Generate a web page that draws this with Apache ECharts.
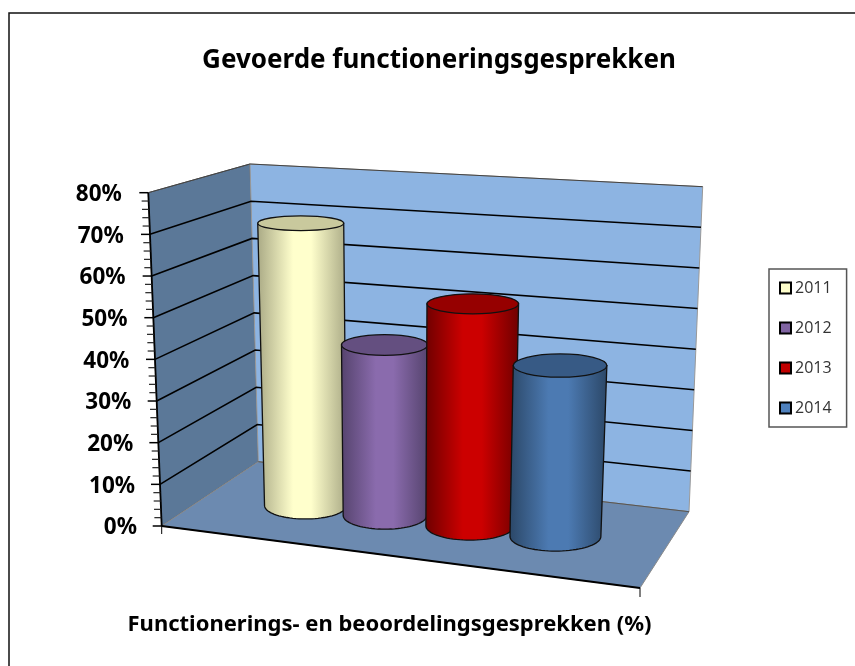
<!DOCTYPE html>
<html>
<head>
<meta charset="utf-8">
<style>
    html, body { margin: 0; padding: 0; background: #fff; }
    #main { width: 855px; height: 666px; }
</style>
<script src="https://cdn.jsdelivr.net/npm/echarts@6/dist/echarts.min.js"></script>
</head>
<body>
<div id="main"></div>
<script>
// data
const years = ['2011', '2012', '2013', '2014'];
const percentages = [70.5, 42, 54, 41];
const categories = ['Functionerings- en beoordelingsgesprekken (%)'];
const yTicks = [0, 10, 20, 30, 40, 50, 60, 70, 80];
const yMinorTicks = [2, 4, 6, 8, 12, 14, 16, 18, 22, 24, 26, 28, 32, 34, 36, 38, 42, 44, 46, 48, 52, 54, 56, 58, 62, 64, 66, 68, 72, 74, 76, 78];

// corners of the 3d box, in pixels
const box = {
    floorFL: [161.7, 526], floorBL: [258.3, 461.7], floorBR: [689, 511.7], floorFR: [640, 588],
    topFL: [148.3, 192.7], topBL: [250, 164], topBR: [702.7, 186.7], topFR: [657, 235]
};
const barU = [0.21, 0.385, 0.572, 0.76];
const barHalfU = [0.09, 0.092, 0.097, 0.1];
const barHalfW = 0.2;
const barLook = [
    { swatch: '#ffffcc', top: '#c9c99d', edge: '#a9a985', mid: '#ffffcc' },
    { swatch: '#8064a2', top: '#644f80', edge: '#55436d', mid: '#8a6bad' },
    { swatch: '#c00000', top: '#960000', edge: '#6e0000', mid: '#cc0000' },
    { swatch: '#4f81bd', top: '#375a85', edge: '#2b4767', mid: '#4c7ab2' }
];

function lerp(a, b, t) {
    return [a[0] + (b[0] - a[0]) * t, a[1] + (b[1] - a[1]) * t];
}
// u: left to right, w: front to back, t: floor to top of the box
function project(u, w, t) {
    const floor = lerp(lerp(box.floorFL, box.floorFR, u), lerp(box.floorBL, box.floorBR, u), w);
    const top = lerp(lerp(box.topFL, box.topFR, u), lerp(box.topBL, box.topBR, u), w);
    return lerp(floor, top, t);
}
// share of the box height for a value, through the y axis scale
function heightShare(api, v) {
    const y0 = api.coord([0, 0])[1];
    const yMax = api.coord([0, 80])[1];
    return (y0 - api.coord([0, v])[1]) / (y0 - yMax);
}

function renderWalls(params, api) {
    const t1 = 1;
    return {
        type: 'group',
        children: [
            { type: 'polygon', shape: { points: [project(0, 0, 0), project(0, 1, 0), project(0, 1, t1), project(0, 0, t1)] },
              style: { fill: '#5b7898', stroke: '#555', lineWidth: 1 } },
            { type: 'polygon', shape: { points: [project(0, 1, 0), project(1, 1, 0), project(1, 1, t1), project(0, 1, t1)] },
              style: { fill: '#8db4e2', stroke: '#999', lineWidth: 1 } },
            { type: 'polygon', shape: { points: [project(0, 0, 0), project(1, 0, 0), project(1, 1, 0), project(0, 1, 0)] },
              style: { fill: '#6c8ab0', stroke: '#8a8a8a', lineWidth: 1 } },
            { type: 'polyline', shape: { points: [project(0, 1, t1), project(1, 1, t1)] }, style: { fill: null, stroke: '#444', lineWidth: 1 } },
            { type: 'polyline', shape: { points: [project(0, 0, t1), project(0, 1, t1)] }, style: { fill: null, stroke: '#444', lineWidth: 1 } },
            { type: 'polyline', shape: { points: [project(0, 1, 0), project(1, 1, 0)] }, style: { fill: null, stroke: '#555', lineWidth: 1 } },
            // front floor edge and the slanted value axis
            { type: 'polyline', shape: { points: [project(0, 0, 0), project(1, 0, 0)] }, style: { fill: null, stroke: '#000', lineWidth: 1.8 } },
            { type: 'polyline', shape: { points: [project(0, 0, 0), project(0, 0, t1)] }, style: { fill: null, stroke: '#000', lineWidth: 1.8 } },
            // category ticks
            { type: 'line', shape: { x1: box.floorFL[0], y1: box.floorFL[1], x2: box.floorFL[0], y2: box.floorFL[1] + 8 }, style: { stroke: '#000', lineWidth: 1 } },
            { type: 'line', shape: { x1: box.floorFR[0], y1: box.floorFR[1], x2: box.floorFR[0], y2: box.floorFR[1] + 9 }, style: { stroke: '#000', lineWidth: 1 } }
        ]
    };
}

function renderGrid(params, api) {
    const t = heightShare(api, api.value(1));
    const edge = project(0, 0, t);
    const children = [
        { type: 'line', shape: { x1: edge[0] - 9, y1: edge[1], x2: edge[0], y2: edge[1] }, style: { stroke: '#000', lineWidth: 1.5 } }
    ];
    if (t > 0 && t < 1) {
        children.push({
            type: 'polyline',
            shape: { points: [edge, project(0, 1, t), project(1, 1, t)] },
            style: { fill: null, stroke: '#000', lineWidth: 1.6 }
        });
    }
    return { type: 'group', children: children };
}

function renderMinor(params, api) {
    const edge = project(0, 0, heightShare(api, api.value(1)));
    return { type: 'line', shape: { x1: edge[0] - 7, y1: edge[1], x2: edge[0], y2: edge[1] }, style: { stroke: '#222', lineWidth: 1.2 } };
}

function renderCylinder(i) {
    return function (params, api) {
        const t = heightShare(api, api.value(1));
        const u = barU[i], du = barHalfU[i], look = barLook[i];
        const base = project(u, 0.5, 0);
        const head = project(u, 0.5, t);
        const baseRx = (project(u + du, 0.5, 0)[0] - project(u - du, 0.5, 0)[0]) / 2;
        const headRx = (project(u + du, 0.5, t)[0] - project(u - du, 0.5, t)[0]) / 2;
        const baseRy = (project(u, 0.5 - barHalfW, 0)[1] - project(u, 0.5 + barHalfW, 0)[1]) / 2;
        const headRy = (project(u, 0.5 - barHalfW, t)[1] - project(u, 0.5 + barHalfW, t)[1]) / 2;
        const body = [[head[0] - headRx, head[1]], [head[0] + headRx, head[1]]];
        for (let k = 0; k <= 40; k++) {
            const a = Math.PI * k / 40;
            body.push([base[0] + baseRx * Math.cos(a), base[1] + baseRy * Math.sin(a)]);
        }
        return {
            type: 'group',
            children: [
                {
                    type: 'polygon',
                    shape: { points: body },
                    style: {
                        fill: {
                            type: 'linear', x: 0, y: 0, x2: 1, y2: 0,
                            colorStops: [
                                { offset: 0, color: look.edge },
                                { offset: 0.4, color: look.mid },
                                { offset: 0.6, color: look.mid },
                                { offset: 1, color: look.edge }
                            ]
                        },
                        stroke: '#111',
                        lineWidth: 1.3
                    }
                },
                {
                    type: 'ellipse',
                    shape: { cx: head[0], cy: head[1], rx: headRx, ry: headRy },
                    style: { fill: look.top, stroke: '#111', lineWidth: 1.3 }
                }
            ]
        };
    };
}

const yRich = {};
yTicks.forEach(v => {
    yRich['p' + v] = { padding: [4, v * 0.19, 0, 0], fontFamily: 'Noto Sans', fontWeight: 'bold', fontSize: 22.5, color: '#000' };
});

const option = {
    animation: false,
    backgroundColor: '#fff',
    title: {
        text: 'Gevoerde functioneringsgesprekken',
        left: 434,
        top: 43,
        textAlign: 'center',
        textStyle: { fontFamily: 'Noto Sans', fontWeight: 'bold', fontSize: 26, color: '#000' }
    },
    legend: {
        orient: 'vertical',
        left: 769,
        top: 269,
        padding: [11, 15, 11, 10],
        itemGap: 24,
        itemWidth: 11,
        itemHeight: 11,
        selectedMode: false,
        borderColor: '#555',
        borderWidth: 1.5,
        textStyle: { fontFamily: 'Open Sans', fontSize: 16, color: '#333', padding: [0, 0, 0, -1] },
        data: years.map((y, i) => ({
            name: y,
            icon: 'rect',
            itemStyle: { color: barLook[i].swatch, borderColor: '#000', borderWidth: 2 }
        }))
    },
    grid: { left: 142, right: 218, top: 192.7, bottom: 140 },
    xAxis: {
        type: 'category',
        data: categories,
        axisLine: { show: false },
        axisTick: { show: false },
        axisLabel: { margin: 88, fontFamily: 'Noto Sans', fontWeight: 'bold', fontSize: 22, color: '#000' }
    },
    yAxis: {
        type: 'value',
        min: 0,
        max: 80,
        interval: 10,
        axisLine: { show: false },
        axisTick: { show: false },
        splitLine: { show: false },
        axisLabel: {
            margin: 5,
            align: 'right',
            formatter: v => '{p' + v + '|' + v + '%}',
            rich: yRich
        }
    },
    graphic: [
        { type: 'polyline', shape: { points: [[9, 670], [9, 13], [860, 13]] }, style: { fill: null, stroke: '#111', lineWidth: 1.5 } }
    ],
    series: [
        { type: 'custom', name: 'walls', silent: true, data: [[0, 0]], encode: { x: 0, y: 1 }, renderItem: renderWalls },
        { type: 'custom', name: 'minor', silent: true, data: yMinorTicks.map(v => [0, v]), encode: { x: 0, y: 1 }, renderItem: renderMinor },
        { type: 'custom', name: 'grid', silent: true, data: yTicks.map(v => [0, v]), encode: { x: 0, y: 1 }, renderItem: renderGrid }
    ].concat(years.map((y, i) => ({
        type: 'custom',
        name: y,
        silent: true,
        data: [[0, percentages[i]]],
        encode: { x: 0, y: 1 },
        itemStyle: { color: barLook[i].swatch },
        renderItem: renderCylinder(i)
    })))
};

var chart = echarts.init(document.getElementById('main'));
chart.setOption(option);
</script>
</body>
</html>
